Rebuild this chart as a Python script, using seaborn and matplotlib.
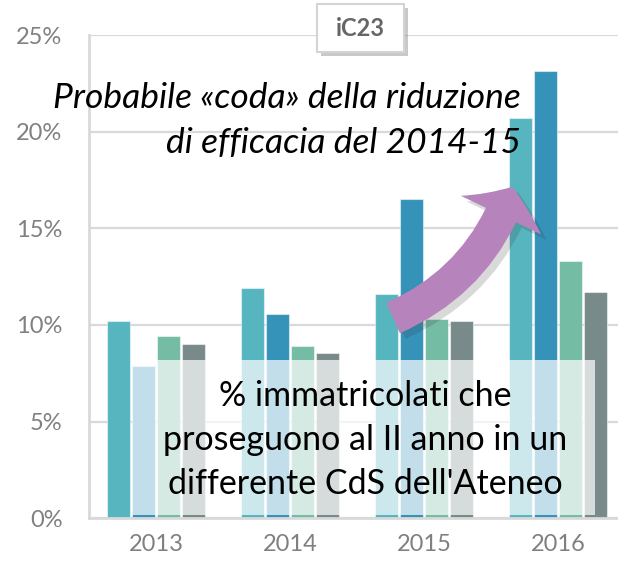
import matplotlib
matplotlib.use("Agg")
import matplotlib.pyplot as plt
import matplotlib.patheffects as pe
from matplotlib.patches import FancyArrowPatch, Rectangle, FancyBboxPatch
from matplotlib.ticker import MultipleLocator
import seaborn as sns
import pandas as pd

# ---- data ----
years = ["2013", "2014", "2015", "2016"]
series = ["S1", "S2", "S3", "S4"]
s1 = [10.2, 11.9, 11.6, 20.7]
s2 = [7.9, 10.55, 16.5, 23.15]
s3 = [9.45, 8.9, 10.3, 13.3]
s4 = [9.0, 8.55, 10.2, 11.7]
yticks = [0, 5, 10, 15, 20, 25]
ytick_labels = ["0%", "5%", "10%", "15%", "20%", "25%"]
colors = ["#57b5c0", "#3593ba", "#74bca4", "#798a8b"]

title = "iC23"
note_top_lines = ["Probabile «coda» della riduzione", "di efficacia del 2014-15"]
note_box = "% immatricolati che\nproseguono al II anno in un\ndifferente CdS dell'Ateneo"

rows = []
for name, vals in zip(series, [s1, s2, s3, s4]):
    for y, v in zip(years, vals):
        rows.append({"anno": y, "serie": name, "valore": v})
df = pd.DataFrame(rows)

sns.set_style("white")
plt.rcParams["font.family"] = ["Lato", "DejaVu Sans"]

W, H = 618, 562
fig = plt.figure(figsize=(W / 100, H / 100), dpi=100)
ax = fig.add_axes([89 / W, (H - 518.3) / H, 529 / W, (518.3 - 35) / H])

sns.barplot(data=df, x="anno", y="valore", hue="serie", order=years,
            hue_order=series, palette=colors, saturation=1, width=0.75,
            gap=0.1, legend=False, ax=ax, edgecolor=(1, 1, 1, 0.5),
            linewidth=0.8, zorder=2)

ax.set_xlim(-0.5, 3.448)
ax.set_ylim(0, 25)
ax.set_xlabel("")
ax.set_ylabel("")

grid_c = "#d9d9d9"
ax.set_yticks(yticks)
ax.set_yticklabels(ytick_labels)
ax.yaxis.set_minor_locator(MultipleLocator(1))
ax.yaxis.grid(True, which="major", color=grid_c, linewidth=1.6, zorder=0)
ax.set_axisbelow(True)
for sp in ["top", "right"]:
    ax.spines[sp].set_visible(False)
for sp in ["left", "bottom"]:
    ax.spines[sp].set_color(grid_c)
    ax.spines[sp].set_linewidth(2)
ax.tick_params(axis="y", which="major", length=7, width=1.6, color=grid_c,
               pad=12, labelsize=17, labelcolor="#808080")
ax.tick_params(axis="y", which="minor", length=5, width=1.6, color=grid_c)
ax.tick_params(axis="x", length=0, pad=11, labelsize=17, labelcolor="#808080")

# translucent box with text
ax.add_patch(Rectangle((-0.18, 0.17), 3.456, 8.02, facecolor="white",
                       alpha=0.7, edgecolor="none", zorder=5))
ax.text(1.56, 4.05, note_box, ha="center", va="center", fontsize=24.5,
        color="black", linespacing=1.45, zorder=6)

# italic note (two right-aligned lines)
for txt, yb in zip(note_top_lines, [21.2, 18.9]):
    ax.text(2.724, yb, txt, ha="right", va="baseline", fontsize=25.5,
            style="italic", color="black", zorder=6)

# arrow
arr = FancyArrowPatch((1.77, 10.36), (2.66, 17.15),
                      connectionstyle="arc3,rad=0.22",
                      arrowstyle="simple,head_width=64,head_length=22,tail_width=24",
                      mutation_scale=1, shrinkA=0, shrinkB=0,
                      facecolor="#b683bc", edgecolor="none", zorder=7,
                      path_effects=[pe.SimplePatchShadow(offset=(4, -4), alpha=0.18,
                                                         shadow_rgbFace="#303030"),
                                    pe.Normal()])
ax.add_patch(arr)

# title box
tb = FancyBboxPatch((317 / W, 1 - 52 / H), 87 / W, 48 / H,
                    boxstyle="square,pad=0", transform=fig.transFigure,
                    facecolor="white", edgecolor="#d4d4d4", linewidth=1.5,
                    zorder=10,
                    path_effects=[pe.SimplePatchShadow(offset=(3, -3), alpha=0.3),
                                  pe.Normal()])
fig.add_artist(tb)
fig.text(360.5 / W, 1 - 29 / H, title, ha="center", va="center", fontsize=17,
         fontweight="bold", color="#666666", zorder=11)

fig.savefig("out.png", dpi=100)
